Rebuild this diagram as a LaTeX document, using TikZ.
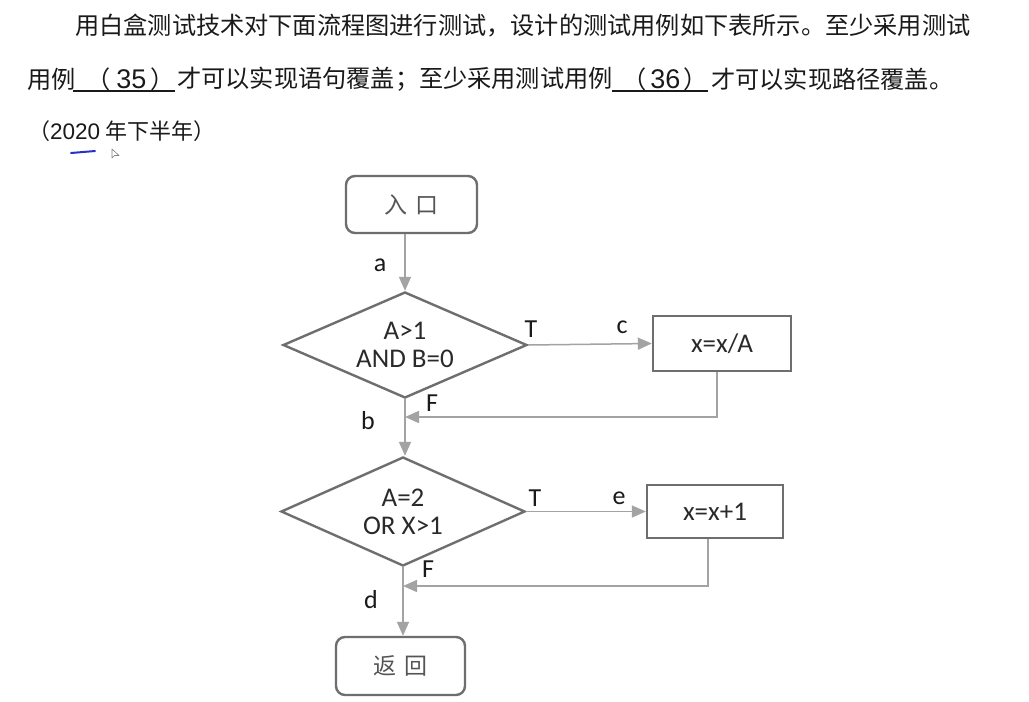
\documentclass[tikz,border=0pt]{standalone}
\usepackage{fontspec}
\setmainfont{Carlito}
\newfontfamily\cjk{Noto Sans CJK SC}
\newfontfamily\arial{Liberation Sans}
\usetikzlibrary{shapes.geometric,arrows.meta,calc}
\definecolor{boxc}{HTML}{6E6E6E}
\definecolor{linec}{HTML}{A3A3A3}
\definecolor{txt}{HTML}{1A1A1A}
\definecolor{boxtxt}{HTML}{2A2A2A}
\definecolor{cjkgray}{HTML}{555555}
\definecolor{pen}{HTML}{2A2FCC}
\begin{document}
\begin{tikzpicture}[x=1pt,y=-1pt,
 para/.style={anchor=west,inner sep=0pt,text=txt,font=\cjk\fontsize{24.2}{24.2}\selectfont},
 term/.style={draw=boxc,line width=2.4pt,rounded corners=9pt,minimum width=131pt,minimum height=57pt,inner sep=0pt,font=\cjk\fontsize{23}{23}\selectfont,text=cjkgray},
 proc/.style={draw=boxc,line width=2.4pt,minimum width=138pt,minimum height=55pt,inner sep=0pt,font=\fontsize{27}{27}\selectfont,text=boxtxt},
 dec/.style={diamond,draw=boxc,line width=2.4pt,minimum width=244pt,minimum height=106pt,inner sep=0pt,aspect=2.3,align=center,font=\fontsize{27}{28}\selectfont,text=boxtxt},
 conn/.style={draw=linec,line width=1.5pt,-{Triangle[length=14pt,width=12pt]}},
 lbl/.style={inner sep=0pt,font=\fontsize{26}{26}\selectfont,text=txt},
 uline/.style={draw=txt,line width=1.4pt}]
\fill[white] (0,0) rectangle (1029,702);
\useasboundingbox (0,0) rectangle (1029,702);

% question text
\node[para] (t1) at (75,26) {用白盒测试技术对下面流程图进行测试，设计的测试用例如下表所示。至少采用测试};
\node[para] (t2a) at (27,79) {用例};
\node[para] (q35) at (86,79) {（\kern6pt{\arial\fontsize{27}{27}\selectfont 35}\kern4pt）};
\coordinate (u1a) at (73,91); \coordinate (u1b) at (175,91);
\draw[uline] (u1a) -- (u1b);
\node[para] (t2b) at (177,79) {才可以实现语句覆盖；至少采用测试用例};
\node[para] (q36) at (622,79) {（\kern4pt{\arial\fontsize{27}{27}\selectfont 36}\kern3pt）};
\coordinate (u2a) at (612,91); \coordinate (u2b) at (708,91);
\draw[uline] (u2a) -- (u2b);
\node[para] (t2c) at (711,79) {才可以实现路径覆盖。};
\node[para,font=\cjk\fontsize{22}{22}\selectfont] (t3) at (28,131) {（{\arial\fontsize{22.5}{22.5}\selectfont 2020} 年下半年）};
\draw[pen,line width=2pt,line cap=round] (71,153) -- (95,151);
\draw[gray,line width=0.6pt,line join=round] (112,149) -- (112,158) -- (114.5,155.5) -- (119,155.5) -- cycle;

% flowchart
\node[term] (entry) at (411.5,204.5) {入\hspace{8pt}口};
\node[dec] (d1) at (405,345) {A>1\\AND B=0};
\node[proc] (p1) at (722,343.5) {x=x/A};
\node[dec,minimum height=109pt] (d2) at (403,511.5) {A=2\\OR X>1};
\node[proc,minimum width=136pt,minimum height=53pt] (p2) at (715,511.5) {x=x+1};
\node[term,minimum width=129pt,minimum height=58pt] (ret) at (400.5,666) {返\hspace{8pt}回};

\coordinate (j1) at (405,417);
\coordinate (j2) at (403,586);
\draw[conn] (d1.north |- entry.south) -- (d1.north);
\draw[conn] (d1.east) -- (p1.west);
\draw[conn] ([xshift=-5pt]p1.south) |- (j1);
\draw[conn] (d1.south) -- (d1.south |- d2.north);
\draw[conn] (d2.east) -- (p2.west);
\draw[conn] ([xshift=-7pt]p2.south) |- (j2);
\draw[conn] (d2.south) -- (d2.south |- ret.north);

\node[lbl] (la) at (380,265) {a};
\node[lbl] (lT1) at (531,329) {T};
\node[lbl] (lc) at (622,327) {c};
\node[lbl] (lF1) at (432,403) {F};
\node[lbl] (lb) at (368,421) {b};
\node[lbl] (lT2) at (535,498) {T};
\node[lbl] (le) at (619,498) {e};
\node[lbl] (lF2) at (428,569) {F};
\node[lbl] (ld) at (371,600) {d};
\end{tikzpicture}
\end{document}
